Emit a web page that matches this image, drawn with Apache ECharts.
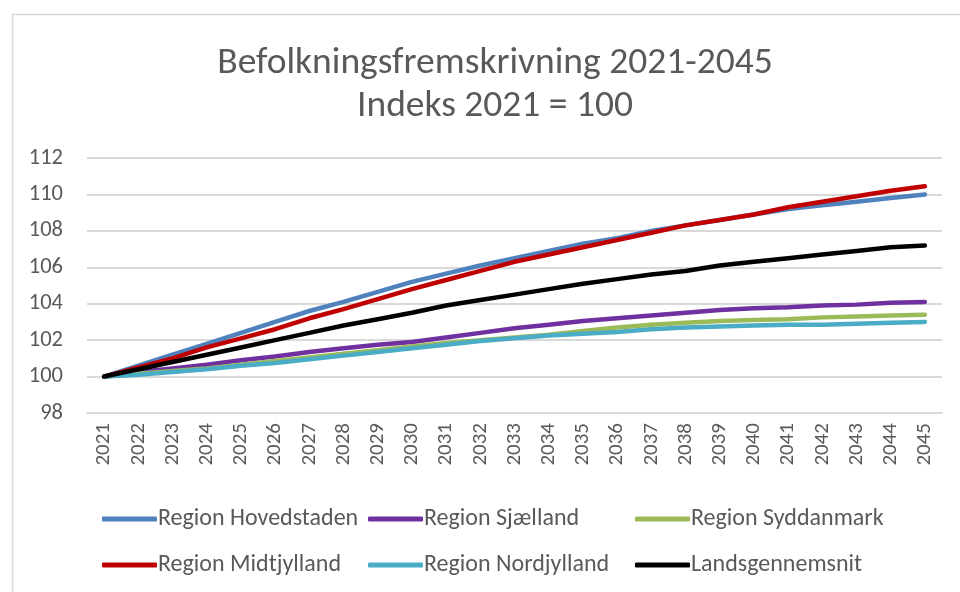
<!DOCTYPE html>
<html>
<head>
<meta charset="utf-8">
<script src="https://cdn.jsdelivr.net/npm/echarts@6/dist/echarts.min.js"></script>
<style>
html,body{margin:0;padding:0;background:#fff;}
#chart{width:960px;height:592px;}
</style>
</head>
<body>
<div id="chart"></div>
<script>
var years = ['2021','2022','2023','2024','2025','2026','2027','2028','2029','2030','2031','2032','2033','2034','2035','2036','2037','2038','2039','2040','2041','2042','2043','2044','2045'];
var yTicks = [98, 100, 102, 104, 106, 108, 110, 112];

var hovedstaden = [100, 100.6, 101.2, 101.8, 102.4, 103.0, 103.6, 104.1, 104.65, 105.2, 105.65, 106.1, 106.5, 106.9, 107.3, 107.6, 108.0, 108.3, 108.6, 108.9, 109.2, 109.4, 109.6, 109.8, 110.0];
var sjaelland = [100, 100.25, 100.45, 100.65, 100.9, 101.1, 101.35, 101.55, 101.75, 101.9, 102.15, 102.4, 102.65, 102.85, 103.05, 103.2, 103.35, 103.5, 103.65, 103.75, 103.8, 103.9, 103.95, 104.05, 104.1];
var syddanmark = [100, 100.15, 100.3, 100.45, 100.65, 100.85, 101.05, 101.25, 101.45, 101.65, 101.85, 102.0, 102.15, 102.3, 102.5, 102.7, 102.85, 102.95, 103.05, 103.1, 103.15, 103.25, 103.3, 103.35, 103.4];
var midtjylland = [100, 100.5, 101.0, 101.6, 102.1, 102.6, 103.2, 103.7, 104.25, 104.8, 105.3, 105.8, 106.3, 106.7, 107.1, 107.5, 107.9, 108.3, 108.6, 108.9, 109.3, 109.6, 109.9, 110.2, 110.45];
var nordjylland = [100, 100.1, 100.25, 100.4, 100.6, 100.75, 100.95, 101.15, 101.35, 101.55, 101.75, 101.95, 102.1, 102.25, 102.35, 102.45, 102.6, 102.7, 102.75, 102.8, 102.85, 102.85, 102.9, 102.95, 103.0];
var landsgennemsnit = [100, 100.4, 100.8, 101.2, 101.6, 102.0, 102.4, 102.8, 103.15, 103.5, 103.9, 104.2, 104.5, 104.8, 105.1, 105.35, 105.6, 105.8, 106.1, 106.3, 106.5, 106.7, 106.9, 107.1, 107.2];

var seriesNames = ['Region Hovedstaden','Region Sjælland','Region Syddanmark','Region Midtjylland','Region Nordjylland','Landsgennemsnit'];
var seriesData = [hovedstaden, sjaelland, syddanmark, midtjylland, nordjylland, landsgennemsnit];
var colors = ['#4F81BD','#7030A0','#9BBB59','#C00000','#4BACC6','#000000'];

var FONT = "Carlito, 'Liberation Sans Narrow', 'Open Sans', sans-serif";
var TXT = '#595959';

var chart = echarts.init(document.getElementById('chart'), null, {renderer:'canvas'});

function legendCol(names, left) {
  return {
    data: names,
    orient: 'vertical',
    left: left,
    top: 502,
    icon: 'roundRect',
    itemWidth: 55,
    itemHeight: 5,
    itemGap: 22,
    textStyle: {color: TXT, fontSize: 24, fontFamily: FONT, padding: [0,0,0,-4]},
    selectedMode: false
  };
}

var option = {
  animation: false,
  backgroundColor: '#ffffff',
  color: colors,
  title: {
    text: 'Befolkningsfremskrivning 2021-2045\nIndeks 2021 = 100',
    left: 490,
    textAlign: 'center',
    top: 37,
    textStyle: {color: TXT, fontSize: 37.5, fontWeight: 'normal', fontFamily: FONT, lineHeight: 43}
  },
  graphic: [{
    type: 'rect',
    left: 10, top: 12,
    shape: {width: 970, height: 600},
    style: {fill: 'none', stroke: '#d9d9d9', lineWidth: 1.5},
    silent: true
  }],
  legend: [
    legendCol([seriesNames[0], seriesNames[3]], 97),
    legendCol([seriesNames[1], seriesNames[4]], 363),
    legendCol([seriesNames[2], seriesNames[5]], 630)
  ],
  grid: {left: 87, right: 18, top: 158, bottom: 179, containLabel: false},
  xAxis: {
    type: 'category',
    data: years,
    boundaryGap: true,
    axisLine: {show: true, lineStyle: {color: '#d9d9d9', width: 2}},
    axisTick: {show: false},
    axisLabel: {rotate: 90, color: TXT, fontSize: 21, fontFamily: FONT, margin: 10, interval: 0}
  },
  yAxis: {
    type: 'value',
    min: yTicks[0],
    max: yTicks[yTicks.length - 1],
    interval: 2,
    axisLine: {show: false},
    axisTick: {show: false},
    splitLine: {lineStyle: {color: '#d9d9d9', width: 2}},
    axisLabel: {color: TXT, fontSize: 22.5, fontFamily: FONT, margin: 24}
  },
  series: seriesNames.map(function(n, i) {
    return {
      name: n,
      type: 'line',
      data: seriesData[i],
      symbol: 'none',
      smooth: false,
      lineStyle: {width: 4.5, color: colors[i], cap: 'round', join: 'round'},
      itemStyle: {color: colors[i]},
      z: 2 + i
    };
  })
};
chart.setOption(option);
</script>
</body>
</html>
